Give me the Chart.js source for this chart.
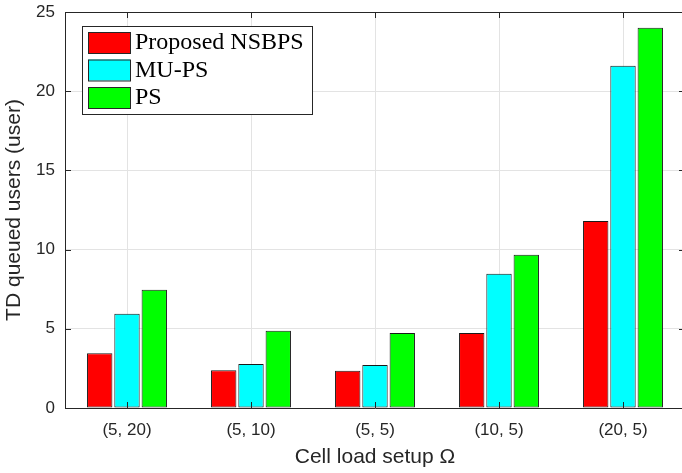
<!DOCTYPE html>
<html>
<head>
<meta charset="utf-8">
<script src="https://cdn.jsdelivr.net/npm/chart.js@4"></script>
<style>
  html, body { margin: 0; padding: 0; background: #fff; overflow: hidden; }
  #wrap { width: 690px; height: 473px; }
</style>
</head>
<body>
<div id="wrap"><canvas id="chart" width="690" height="473"></canvas></div>
<script>
// data
const categories = ['(5, 20)', '(5, 10)', '(5, 5)', '(10, 5)', '(20, 5)'];
const seriesNames = ['Proposed NSBPS', 'MU-PS', 'PS'];
const nsbps = [3.46, 2.39, 2.35, 4.73, 11.81];
const mups = [5.95, 2.77, 2.71, 8.48, 21.6];
const ps = [7.47, 4.88, 4.73, 9.68, 24.0];
const colors = ['#ff0000', '#00ffff', '#00ff00'];
const yTicks = [0, 5, 10, 15, 20, 25];

const axisColor = '#262626';
const gridColor = '#e3e3e3';

// MATLAB-ish frame: top line and inward tick marks
const framePlugin = {
    id: 'frame',
    afterDatasetsDraw(chart) {
        const { ctx, chartArea: a, scales } = chart;
        ctx.save();
        ctx.strokeStyle = axisColor;
        ctx.lineWidth = 1;
        ctx.beginPath();
        ctx.moveTo(a.left, a.top + 0.5);
        ctx.lineTo(a.right, a.top + 0.5);
        ctx.moveTo(a.right - 0.5, a.top);
        ctx.lineTo(a.right - 0.5, a.bottom);
        categories.forEach((c, i) => {
            const x = Math.round(scales.x.getPixelForValue(i)) + 0.5;
            ctx.moveTo(x, a.bottom);
            ctx.lineTo(x, a.bottom - 6);
            ctx.moveTo(x, a.top);
            ctx.lineTo(x, a.top + 6);
        });
        yTicks.forEach(v => {
            const y = Math.round(scales.y.getPixelForValue(v)) + 0.5;
            ctx.moveTo(a.left, y);
            ctx.lineTo(a.left + 6, y);
            ctx.moveTo(a.right, y);
            ctx.lineTo(a.right - 6, y);
        });
        ctx.stroke();
        ctx.restore();
    }
};

// legend box inside the plot, top left
const legendPlugin = {
    id: 'boxLegend',
    afterDraw(chart) {
        const ctx = chart.ctx;
        ctx.save();
        ctx.fillStyle = '#fff';
        ctx.fillRect(82, 26, 230, 88);
        ctx.strokeStyle = axisColor;
        ctx.lineWidth = 1;
        ctx.strokeRect(82.5, 26.5, 230, 88);
        ctx.font = '24px "Liberation Serif", "Times New Roman", serif';
        ctx.textBaseline = 'middle';
        chart.data.datasets.forEach((ds, i) => {
            const top = 32 + i * 27.5;
            ctx.fillStyle = ds.backgroundColor;
            ctx.fillRect(88, top, 42, 21);
            ctx.strokeStyle = axisColor;
            ctx.strokeRect(88.5, top + 0.5, 42, 21);
            ctx.fillStyle = '#000';
            ctx.fillText(ds.label, 135, top + 11);
        });
        ctx.restore();
    }
};

const ctx = document.getElementById('chart').getContext('2d');
new Chart(ctx, {
    type: 'bar',
    data: {
        labels: categories,
        datasets: [nsbps, mups, ps].map((vals, i) => ({
            label: seriesNames[i],
            data: vals,
            backgroundColor: colors[i],
            borderColor: '#1a1a1a',
            borderWidth: 1,
            borderSkipped: false,
            categoryPercentage: 0.66,
            barPercentage: 0.93
        }))
    },
    options: {
        responsive: false,
        animation: false,
        layout: { padding: { left: 0, right: 5, top: 12, bottom: 0 } },
        plugins: {
            legend: { display: false },
            tooltip: { enabled: false }
        },
        scales: {
            x: {
                offset: true,
                grid: { offset: false, color: gridColor, drawTicks: false },
                border: { color: axisColor },
                ticks: {
                    color: '#262626',
                    padding: 12,
                    font: { family: "'Liberation Sans', Arial, sans-serif", size: 17 }
                },
                title: {
                    display: true,
                    text: 'Cell load setup Ω',
                    color: '#262626',
                    padding: { top: 0, bottom: 3 },
                    font: { family: "'Liberation Sans', Arial, sans-serif", size: 21 }
                },
                afterFit(scale) {
                    scale.height = 65;
                    scale.paddingLeft = 0;
                    scale.paddingRight = 0;
                }
            },
            y: {
                min: 0,
                max: 25,
                afterBuildTicks(scale) { scale.ticks = yTicks.map(v => ({ value: v })); },
                grid: { color: gridColor, drawTicks: false },
                border: { color: axisColor },
                ticks: {
                    color: '#262626',
                    padding: 10,
                    font: { family: "'Liberation Sans', Arial, sans-serif", size: 17 }
                },
                title: {
                    display: true,
                    text: 'TD queued users (user)',
                    color: '#262626',
                    padding: { top: 2, bottom: 0 },
                    font: { family: "'Liberation Sans', Arial, sans-serif", size: 21 }
                },
                afterFit(scale) {
                    scale.width = 65;
                    scale.paddingTop = 0;
                    scale.paddingBottom = 0;
                }
            }
        }
    },
    plugins: [framePlugin, legendPlugin]
});
</script>
</body>
</html>
